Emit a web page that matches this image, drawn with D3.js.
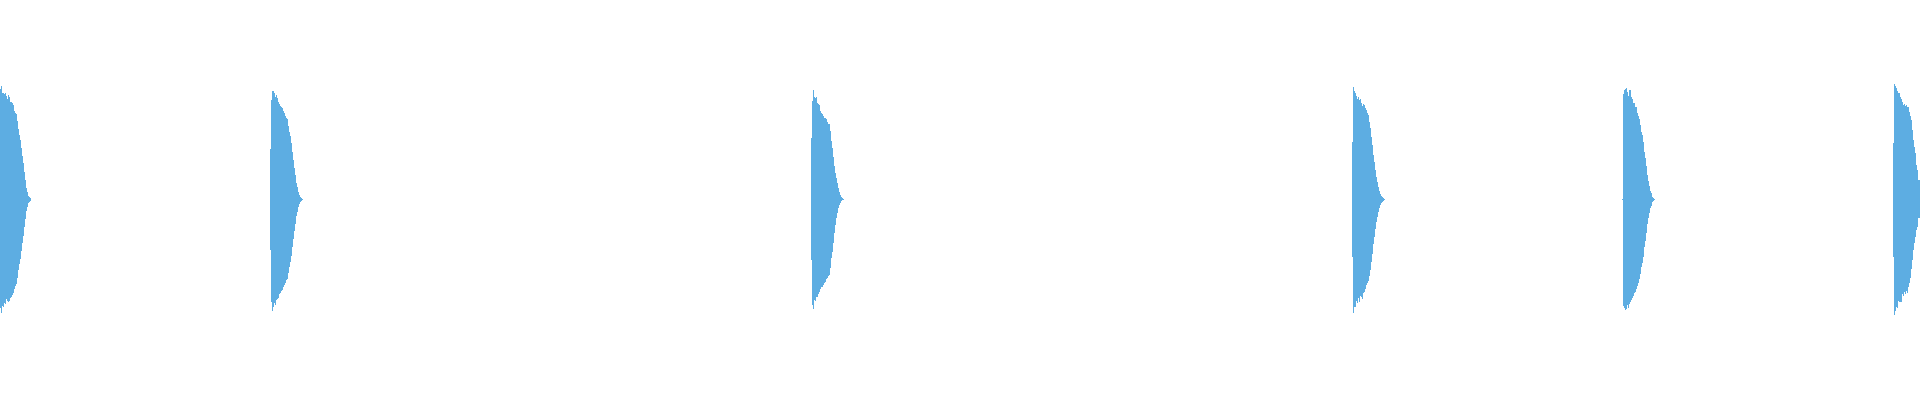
<!DOCTYPE html>
<html>
<head>
<meta charset="utf-8">
<script src="https://cdn.jsdelivr.net/npm/d3@7"></script>
<style>
  html, body { margin: 0; padding: 0; background: #ffffff; }
  svg { display: block; }
</style>
</head>
<body>
<svg id="chart" width="1920" height="400"></svg>
<script>
// ---- data ----
// time axis (seconds) shown across the chart
const timeDomain = [0, 3.55];
// one envelope sample per column (seconds)
const sampleStep = 0.001849;
// onset times of each hit (seconds)
const onsets = [0, 0.4993, 1.4996, 2.4999, 2.9991, 3.5002];
// positive peak per sample, one list per hit
const peaks1 = [0.552,0.569,0.532,0.535,0.527,0.532,0.519,0.502,0.522,0.515,0.490,0.490,0.484,0.474,0.445,0.432,0.429,0.395,0.353,0.323,0.298,0.258,0.218,0.184,0.139,0.098,0.058,0.039,0.018,0.011,0.006];
const peaks2 = [0.252,0.499,0.544,0.544,0.532,0.515,0.524,0.510,0.490,0.479,0.469,0.465,0.457,0.445,0.435,0.420,0.407,0.402,0.368,0.340,0.318,0.285,0.240,0.198,0.156,0.123,0.084,0.064,0.039,0.023,0.011,0.006,0.003];
const peaks3 = [0.307,0.495,0.549,0.515,0.510,0.515,0.485,0.480,0.475,0.445,0.435,0.428,0.419,0.410,0.410,0.405,0.390,0.380,0.376,0.345,0.295,0.257,0.211,0.168,0.131,0.106,0.084,0.056,0.039,0.023,0.014,0.008,0.003];
const peaks4 = [0.290,0.565,0.545,0.535,0.519,0.502,0.515,0.499,0.502,0.485,0.469,0.479,0.475,0.457,0.449,0.435,0.424,0.390,0.357,0.315,0.273,0.223,0.190,0.148,0.114,0.089,0.064,0.043,0.026,0.018,0.011,0.006,0.002];
const peaks5 = [0.005,0.529,0.549,0.554,0.557,0.540,0.519,0.549,0.549,0.512,0.505,0.482,0.485,0.465,0.465,0.432,0.419,0.402,0.373,0.340,0.323,0.290,0.240,0.206,0.168,0.123,0.094,0.068,0.044,0.031,0.014,0.009,0.004];
const peaks6 = [0.285,0.579,0.569,0.557,0.545,0.535,0.532,0.512,0.502,0.490,0.474,0.480,0.470,0.474,0.462,0.465,0.440,0.419,0.398,0.348,0.298,0.265,0.231,0.173,0.148,0.098,0.098];
// negative trough per sample (magnitude), one list per hit
const troughs1 = [0.545,0.567,0.534,0.537,0.517,0.525,0.500,0.510,0.512,0.508,0.495,0.490,0.480,0.470,0.450,0.432,0.425,0.395,0.353,0.323,0.298,0.258,0.218,0.184,0.139,0.098,0.058,0.039,0.018,0.011,0.006];
const troughs2 = [0.252,0.512,0.557,0.540,0.520,0.528,0.505,0.500,0.495,0.475,0.470,0.460,0.455,0.440,0.430,0.418,0.405,0.398,0.370,0.340,0.315,0.285,0.240,0.198,0.156,0.123,0.084,0.064,0.039,0.023,0.011,0.006,0.003];
const troughs3 = [0.303,0.529,0.550,0.504,0.510,0.490,0.488,0.474,0.465,0.450,0.440,0.437,0.430,0.420,0.412,0.400,0.392,0.383,0.378,0.345,0.295,0.262,0.220,0.170,0.128,0.094,0.069,0.044,0.028,0.018,0.010,0.005,0.002];
const troughs4 = [0.290,0.567,0.537,0.540,0.507,0.520,0.495,0.515,0.485,0.490,0.500,0.470,0.462,0.450,0.429,0.420,0.410,0.385,0.355,0.315,0.273,0.223,0.190,0.148,0.114,0.089,0.064,0.043,0.026,0.018,0.011,0.006,0.002];
const troughs5 = [0.005,0.534,0.545,0.552,0.548,0.530,0.545,0.525,0.512,0.505,0.495,0.485,0.470,0.462,0.450,0.435,0.420,0.400,0.373,0.340,0.320,0.290,0.240,0.206,0.168,0.123,0.094,0.068,0.044,0.031,0.014,0.009,0.004];
const troughs6 = [0.287,0.579,0.557,0.537,0.545,0.507,0.512,0.515,0.512,0.474,0.485,0.462,0.474,0.460,0.470,0.437,0.420,0.395,0.350,0.303,0.253,0.220,0.186,0.153,0.136,0.094,0.094];

const peaks = [peaks1, peaks2, peaks3, peaks4, peaks5, peaks6];
const troughs = [troughs1, troughs2, troughs3, troughs4, troughs5, troughs6];

// ---- chart ----
const W = 1920, H = 400;
const svg = d3.select("#chart");
const x = d3.scaleLinear().domain(timeDomain).range([0, W]);
const y = d3.scaleLinear().domain([-1, 1]).range([399, 0]);

const samples = [];
onsets.forEach((t0, h) => {
  peaks[h].forEach((p, i) => {
    samples.push({ t: t0 + i * sampleStep, hi: p, lo: -troughs[h][i] });
  });
});

const colW = x(sampleStep) - x(0);

svg.append("g")
  .attr("shape-rendering", "crispEdges")
  .selectAll("rect")
  .data(samples)
  .join("rect")
  .attr("x", d => x(d.t))
  .attr("width", colW)
  .attr("y", d => y(d.hi))
  .attr("height", d => Math.max(1, y(d.lo) - y(d.hi)))
  .attr("fill", "#5dade2");
</script>
</body>
</html>
